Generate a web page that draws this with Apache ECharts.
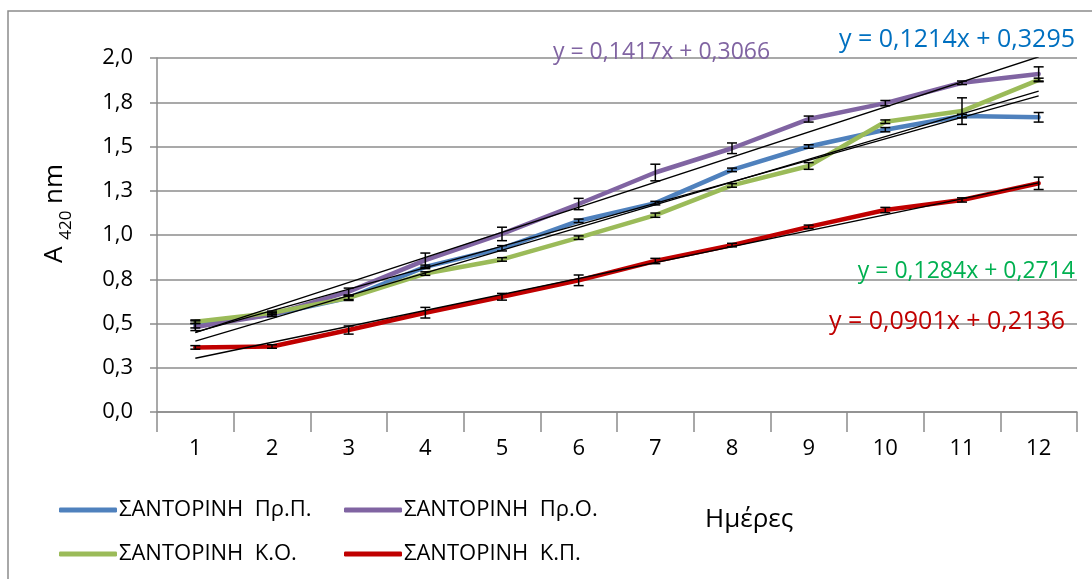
<!DOCTYPE html>
<html>
<head>
<meta charset="utf-8">
<script src="https://cdn.jsdelivr.net/npm/echarts@6/dist/echarts.min.js"></script>
<style>
  html, body { margin: 0; padding: 0; background: #ffffff; }
  #chart { width: 1092px; height: 579px; }
</style>
</head>
<body>
<div id="chart"></div>
<script>
// Absorbance at 420 nm over 12 days, four Santorini samples
const days = ['1', '2', '3', '4', '5', '6', '7', '8', '9', '10', '11', '12'];
const yTickLabels = ['0,0', '0,3', '0,5', '0,8', '1,0', '1,3', '1,5', '1,8', '2,0'];

const seriesNames = ['ΣΑΝΤΟΡΙΝΗ  Πρ.Π.', 'ΣΑΝΤΟΡΙΝΗ  Πρ.Ο.', 'ΣΑΝΤΟΡΙΝΗ  Κ.Ο.', 'ΣΑΝΤΟΡΙΝΗ  Κ.Π.'];
const seriesColors = ['#4F81BD', '#8064A2', '#9BBB59', '#C00000'];

const prP = [0.495, 0.55, 0.645, 0.82, 0.925, 1.08, 1.18, 1.368, 1.50, 1.595, 1.672, 1.665];
const prO = [0.48, 0.55, 0.68, 0.858, 1.006, 1.175, 1.353, 1.49, 1.655, 1.745, 1.86, 1.91];
const kO  = [0.51, 0.56, 0.645, 0.782, 0.862, 0.985, 1.112, 1.28, 1.39, 1.64, 1.70, 1.876];
const kP  = [0.365, 0.37, 0.463, 0.561, 0.651, 0.744, 0.853, 0.943, 1.046, 1.141, 1.198, 1.292];

// standard deviations shown as error bars
const errPrP = [0.02, 0.01, 0.01, 0.01, 0.015, 0.01, 0.01, 0.01, 0.01, 0.012, 0.01, 0.027];
const errPrO = [0.02, 0.01, 0.02, 0.04, 0.038, 0.032, 0.047, 0.03, 0.017, 0.015, 0.01, 0.04];
const errKO  = [0.01, 0.01, 0.015, 0.01, 0.01, 0.01, 0.012, 0.01, 0.019, 0.01, 0.075, 0.01];
const errKP  = [0.01, 0.01, 0.023, 0.03, 0.019, 0.03, 0.015, 0.01, 0.01, 0.015, 0.012, 0.035];

// linear trend lines y = a·x + b
const trendSlope     = [0.1214, 0.1417, 0.1284, 0.0901];
const trendIntercept = [0.3295, 0.3066, 0.2714, 0.2136];
const trendText = ['y = 0,1214x + 0,3295', 'y = 0,1417x + 0,3066', 'y = 0,1284x + 0,2714', 'y = 0,0901x + 0,2136'];
const trendTextColors = ['#0070C0', '#8064A2', '#00B050', '#C00000'];

const values = [prP, prO, kO, kP];
const errors = [errPrP, errPrO, errKO, errKP];

const FONT = '"Open Sans", "Noto Sans", sans-serif';
const chart = echarts.init(document.getElementById('chart'), null, { renderer: 'canvas' });

const series = [];
values.forEach((v, k) => {
  series.push({
    name: seriesNames[k],
    type: 'line',
    data: v,
    showSymbol: false,
    symbol: 'none',
    lineStyle: { color: seriesColors[k], width: 4.5, cap: 'round', join: 'round' },
    itemStyle: { color: seriesColors[k] },
    z: 2,
    animation: false
  });
});
values.forEach((v, k) => {
  series.push({
    type: 'custom',
    z: 4,
    silent: true,
    animation: false,
    data: v.map((y, i) => [i, y, errors[k][i]]),
    renderItem: function (params, api) {
      const i = api.value(0), y = api.value(1), e = api.value(2);
      const top = api.coord([i, y + e]);
      const bot = api.coord([i, y - e]);
      const hw = 5;
      const st = { stroke: '#000', lineWidth: 1.5 };
      return {
        type: 'group',
        children: [
          { type: 'line', shape: { x1: top[0], y1: top[1], x2: bot[0], y2: bot[1] }, style: st },
          { type: 'line', shape: { x1: top[0] - hw, y1: top[1], x2: top[0] + hw, y2: top[1] }, style: st },
          { type: 'line', shape: { x1: bot[0] - hw, y1: bot[1], x2: bot[0] + hw, y2: bot[1] }, style: st }
        ]
      };
    }
  });
});
trendSlope.forEach((a, k) => {
  const b = trendIntercept[k];
  series.push({
    type: 'line',
    xAxisIndex: 1,
    data: [[1, a * 1 + b], [12, a * 12 + b]],
    showSymbol: false,
    symbol: 'none',
    silent: true,
    lineStyle: { color: '#000', width: 1.3 },
    z: 3,
    animation: false
  });
});

// equation label anchors: [x, y, align, font size]
const eqPos = [[1075, 40, 'right', 25], [553, 52, 'left', 23], [1075, 271, 'right', 23], [1065, 322, 'right', 25]];
const graphics = [
  { type: 'rect', shape: { x: 8, y: 11, width: 1200, height: 700 },
    style: { fill: 'none', stroke: '#8c8c8c', lineWidth: 1.5 }, silent: true, z: 0 },
  { type: 'text', x: 705, y: 520,
    style: { text: 'Ημέρες', font: '26px ' + FONT, fill: '#000', verticalAlign: 'middle' } },
  { type: 'text', x: 42, y: 263, rotation: Math.PI / 2,
    style: {
      text: '{a|A }{s|420}{a| nm}',
      rich: {
        a: { fontFamily: FONT, fontSize: 26, fill: '#000', verticalAlign: 'bottom' },
        s: { fontFamily: FONT, fontSize: 17, fill: '#000', verticalAlign: 'bottom', padding: [0, 0, -7, 0] }
      },
      fill: '#000'
    }
  }
];
trendText.forEach((t, k) => {
  graphics.push({ type: 'text', x: eqPos[k][0], y: eqPos[k][1], z: 10,
    style: { text: t, font: eqPos[k][3] + 'px ' + FONT, fill: trendTextColors[k],
             align: eqPos[k][2], verticalAlign: 'middle' } });
});

const legendCommon = {
  orient: 'vertical',
  icon: 'roundRect',
  itemWidth: 58,
  itemHeight: 5,
  itemGap: 22,
  textStyle: { fontFamily: FONT, fontSize: 22, lineHeight: 22, color: '#000', padding: [0, 0, 0, -3] },
  selectedMode: false
};

chart.setOption({
  animation: false,
  backgroundColor: '#ffffff',
  grid: { left: 157, right: 15, top: 58, bottom: 167, containLabel: false },
  legend: [
    Object.assign({ left: 54, top: 494, data: [seriesNames[0], seriesNames[2]] }, legendCommon),
    Object.assign({ left: 339, top: 494, data: [seriesNames[1], seriesNames[3]] }, legendCommon)
  ],
  xAxis: [
    {
      type: 'category',
      data: days,
      boundaryGap: true,
      axisLine: { lineStyle: { color: '#8c8c8c', width: 1.5 } },
      axisTick: { show: true, length: 20, lineStyle: { color: '#8c8c8c', width: 1.5 } },
      axisLabel: { color: '#000', fontFamily: FONT, fontSize: 22, margin: 26 },
      splitLine: { show: false }
    },
    {
      type: 'value',
      min: 0.5,
      max: 12.5,
      show: false
    }
  ],
  yAxis: {
    type: 'value',
    min: 0,
    max: 2,
    interval: 0.25,
    axisLine: { show: true, lineStyle: { color: '#8c8c8c', width: 1.5 } },
    axisTick: { show: true, length: 7, lineStyle: { color: '#8c8c8c', width: 1.5 } },
    axisLabel: {
      color: '#000', fontFamily: FONT, fontSize: 22, margin: 24,
      formatter: function (v) { return yTickLabels[Math.round(v / 0.25)]; }
    },
    splitLine: { show: true, lineStyle: { color: '#8c8c8c', width: 1.5 } }
  },
  graphic: graphics,
  series: series
});
</script>
</body>
</html>
